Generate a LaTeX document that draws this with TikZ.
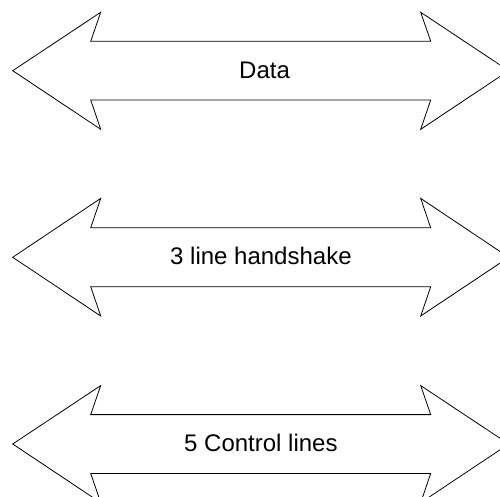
\documentclass[tikz,border=0pt]{standalone}
\usepackage{fontspec}
\setmainfont{Liberation Sans}
\begin{document}
\begin{tikzpicture}[x=1pt,y=1pt,yscale=-1,xscale=1]
\useasboundingbox (0,0) rectangle (500,497);

%Shape: Double Arrow [id:dp1]
\draw [line width=0.8]  (12.7,70.7) -- (100.7,12.3) -- (90.7,41.3) -- (430.7,41.3) -- (420.7,12.3) -- (508.7,70.7) -- (420.7,129.3) -- (430.7,100) -- (90.7,100) -- (100.7,129.3) -- cycle ;
%Shape: Double Arrow [id:dp2]
\draw [line width=0.8]  (12.7,257.3) -- (100.7,198.4) -- (90.7,227.8) -- (430.7,227.8) -- (420.7,198.4) -- (508.7,257.3) -- (420.7,316) -- (430.7,286.7) -- (90.7,286.7) -- (100.7,316) -- cycle ;
%Shape: Double Arrow [id:dp3]
\draw [line width=0.8]  (12.7,444) -- (100.7,385.6) -- (90.7,414.6) -- (430.7,414.6) -- (420.7,385.6) -- (508.7,444) -- (420.7,502.7) -- (430.7,473.4) -- (90.7,473.4) -- (100.7,502.7) -- cycle ;

% Text Node
\draw (239,78.3) node [anchor=base west] [inner sep=0pt] (data) {\fontsize{24}{28}\selectfont Data};
% Text Node
\draw (170,264.3) node [anchor=base west] [inner sep=0pt] (hshake) {\fontsize{24}{28}\selectfont 3 line handshake};
% Text Node
\draw (184,451.7) node [anchor=base west] [inner sep=0pt] (ctrl) {\fontsize{24}{28}\selectfont 5 Control lines};

\end{tikzpicture}
\end{document}
